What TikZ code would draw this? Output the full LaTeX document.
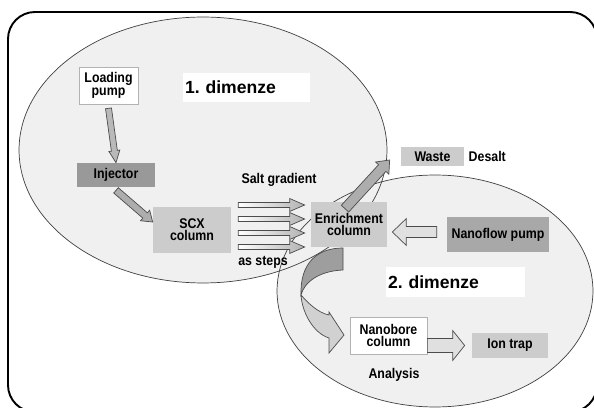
\documentclass[tikz,border=0pt]{standalone}
\usepackage{fontspec}
\setmainfont{Liberation Sans}
\newfontfamily\narrowsans[FakeStretch=0.88]{Liberation Sans}
\usetikzlibrary{calc,positioning}
\frenchspacing

\definecolor{ovalfill}{gray}{0.94}
\definecolor{ovalline}{gray}{0.25}
\definecolor{darkbox}{gray}{0.60}
\definecolor{midbox}{gray}{0.66}
\definecolor{lightbox}{gray}{0.80}
\definecolor{arrowdark}{gray}{0.68}
\definecolor{arrowlight}{gray}{0.88}

\tikzset{
  lbl/.style={font=\narrowsans\bfseries\fontsize{8}{7}\selectfont, align=center, inner sep=0pt},
  stage/.style={lbl, fill=#1},
  whitebox/.style={lbl, fill=white, draw=black!30, line width=0.4pt},
  title/.style={fill=white, inner sep=0.04cm, align=left,
    font=\bfseries\fontsize{10}{12}\selectfont},
  blockline/.style={draw=black!70, line width=0.4pt, line join=miter}
}

% block arrow: [options] {from} {to} {shaft half width} {head half width} {head length}
\newcommand{\blockarrow}[6][]{%
  \coordinate (ba-a) at #2;
  \coordinate (ba-b) at #3;
  \coordinate (ba-h) at ($(ba-b)!#6!(ba-a)$);
  \path[blockline, #1] ($(ba-a)!#4!90:(ba-b)$) -- ($(ba-h)!#4!90:(ba-b)$)
    -- ($(ba-h)!#5!90:(ba-b)$) -- (ba-b) -- ($(ba-h)!#5!-90:(ba-b)$)
    -- ($(ba-h)!#4!-90:(ba-b)$) -- ($(ba-a)!#4!-90:(ba-b)$) -- cycle;
}

\begin{document}
\begin{tikzpicture}[x=0.02cm, y=-0.02cm]
        \useasboundingbox (0,0) rectangle (594,408);
        \clip (0,0) rectangle (594,408);

        % Frame
        \draw[line width=1.1pt, rounded corners=0.54cm] (8,12) rectangle (597,412);

        % Two dimensions
        \fill[ovalfill] (203,150) ellipse [x radius=3.68cm, y radius=2.66cm];
        \fill[ovalfill] (435,291) ellipse [x radius=3.16cm, y radius=2.32cm];
        \draw[ovalline, line width=0.4pt] (203,150) ellipse [x radius=3.68cm, y radius=2.66cm];
        \draw[ovalline, line width=0.4pt] (435,291) ellipse [x radius=3.16cm, y radius=2.32cm];

        % Nodes
        \node[title, text width=2.46cm, minimum height=0.58cm] (dim1) at (246.5,87.5) {1. dimenze};
        \node[title, text width=2.70cm, minimum height=0.60cm] (dim2) at (455.5,282) {2. dimenze};

        \node[whitebox, minimum width=1.18cm, minimum height=0.74cm] (lp) at (108.5,85.5) {Loading\\pump};
        \node[stage=darkbox, minimum width=1.56cm, minimum height=0.48cm] (inj) at (116,175) {Injector};
        \node[stage=lightbox, minimum width=1.56cm, minimum height=0.92cm] (scx) at (192,230) {SCX\\column};
        \node[stage=lightbox, minimum width=1.52cm, minimum height=0.90cm] (enr) at (349,224.5) {Enrichment\\column};
        \node[stage=lightbox, minimum width=1.26cm, minimum height=0.38cm] (waste) at (432.5,156.5) {Waste};
        \node[lbl, right=0.08cm of waste] (desalt) {Desalt};
        \node[stage=midbox, minimum width=2.04cm, minimum height=0.70cm] (nano) at (498,234.5) {Nanoflow pump};
        \node[whitebox, minimum width=1.54cm, minimum height=0.74cm] (nb) at (388.5,335.5) {Nanobore\\column};
        \node[stage=lightbox, minimum width=1.52cm, minimum height=0.50cm] (ion) at (510,345.5) {Ion trap};

        \node[lbl] (salt) at (279,180) {Salt gradient};
        \node[lbl] (steps) at (263,262) {as steps};
        \node[lbl] (analysis) at (394,375) {Analysis};

        % Edges
        \blockarrow[fill=gray!55]{([yshift=-0.08cm]lp.south)}{(inj.north)}{0.06cm}{0.11cm}{0.24cm}
        \blockarrow[fill=arrowdark]{([yshift=-0.06cm]inj.south)}{([yshift=0.16cm]scx.west)}{0.07cm}{0.14cm}{0.2cm}
        \foreach \d in {-25,-11,3,17}{
          \blockarrow[left color=white, right color=black!30]{($(scx.east)+(7,\d)$)}{($(enr.west |- scx.east)+(-6,\d)$)}{0.05cm}{0.13cm}{0.3cm}
        }
        \blockarrow[fill=arrowdark]{([xshift=-0.08cm,yshift=-0.14cm]enr.north)}{([xshift=-0.22cm,yshift=-0.07cm]waste.west)}{0.1cm}{0.18cm}{0.22cm}
        \blockarrow[fill=arrowlight]{([xshift=-0.2cm,yshift=0.05cm]nano.west)}{([xshift=0.1cm,yshift=-0.15cm]enr.east)}{0.11cm}{0.27cm}{0.28cm}
        \blockarrow[fill=arrowlight]{(nb.east |- ion.west)}{([xshift=-0.14cm]ion.west)}{0.14cm}{0.3cm}{0.24cm}

        % Twisted arrow from enrichment to nanobore column
        \path[blockline, fill=black!38] (343,248) .. controls (318,248) and (300,262) .. (301,295)
          .. controls (304,283) and (318,271) .. (343,270) -- cycle;
        \path[blockline, fill=black!18] (301,295) .. controls (302,312) and (313,333) .. (329,338)
          -- (329,353) -- (344,335) -- (329,312) -- (329,315)
          .. controls (318,313) and (307,302) .. (301,295) -- cycle;
    \end{tikzpicture}
\end{document}
